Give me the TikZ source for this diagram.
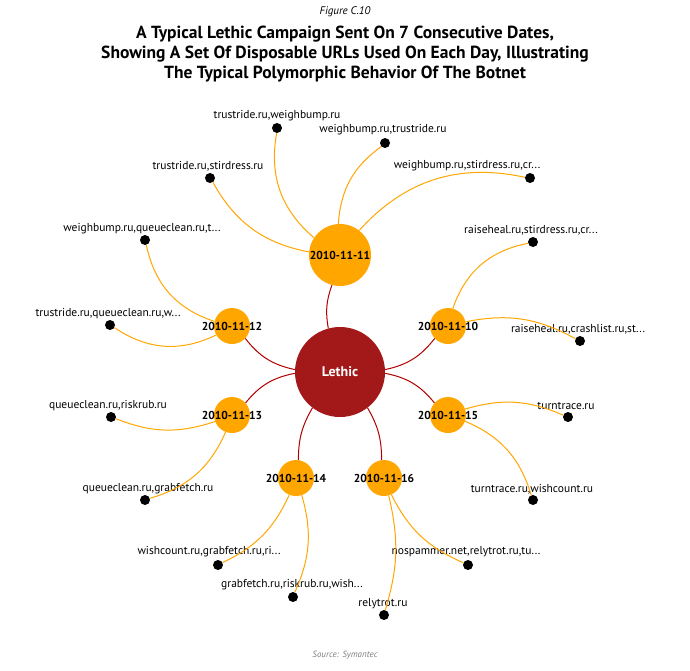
\documentclass[tikz,border=0pt]{standalone}
\usepackage{fontspec}
\setmainfont{PT Sans}
\begin{document}
\begin{tikzpicture}[x=1pt,y=-1pt,
  hub/.style={circle,fill=red!60!black!90,text=white,font=\bfseries\fontsize{14}{16}\selectfont,minimum size=90pt,inner sep=0},
  day/.style={circle,fill=orange!70!yellow,font=\bfseries\fontsize{11.5}{13}\selectfont,minimum size=36pt,inner sep=0},
  leaf/.style={circle,fill=black,minimum size=10pt,inner sep=0},
  lbl/.style={font=\fontsize{11.5}{13}\selectfont,inner sep=0},
  rl/.style={draw=red!70!black,line width=1pt},
  yl/.style={draw=orange!70!yellow,line width=1pt}]
\useasboundingbox (0,0) rectangle (690,670);
\node[font=\itshape\fontsize{11}{13}\selectfont] (fig) at (345,12) {Figure C.10};
\node[font=\bfseries\fontsize{17.5}{20}\selectfont,align=center] (title) at (345,54) {A Typical Lethic Campaign Sent On 7 Consecutive Dates,\\Showing A Set Of Disposable URLs Used On Each Day, Illustrating\\The Typical Polymorphic Behavior Of The Botnet};
\node[font=\itshape\fontsize{9}{11}\selectfont,text=gray] (src) at (345,655) {Source: Symantec};

\foreach \n/\x/\y/\lx/\ly/\t in {
 a/277/128/277/116/{trustride.ru,weighbump.ru},
 b/385/143/383/130/{weighbump.ru,trustride.ru},
 c/210/178/208/166/{trustride.ru,stirdress.ru},
 d/530/178/467/166/{weighbump.ru,stirdress.ru,cr...},
 e/145/240/142/229/{weighbump.ru,queueclean.ru,t...},
 f/533/242/531/230/{raiseheal.ru,stirdress.ru,cr...},
 g/110/325/108/314/{trustride.ru,queueclean.ru,w...},
 h/580/341/578/329/{raiseheal.ru,crashlist.ru,st...},
 i/111/417/108/406/{queueclean.ru,riskrub.ru},
 j/568/417/566/406/{turntrace.ru},
 k/145/500/148/489/{queueclean.ru,grabfetch.ru},
 l/533/500/532/489/{turntrace.ru,wishcount.ru},
 m/218/565/209/552/{wishcount.ru,grabfetch.ru,ri...},
 n/468/565/466/552/{nospammer.net,relytrot.ru,tu...},
 o/293/597/292/585/{grabfetch.ru,riskrub.ru,wish...},
 p/384/615/383/604/{relytrot.ru}}
 {\node[leaf] (\n) at (\x,\y) {}; \node[lbl] (\n l) at (\lx,\ly) {\t};}

\node[day,minimum size=62pt] (d11) at (340,255) {};
\node[day] (d10) at (448,326) {};
\node[day] (d12) at (232,326) {};
\node[day] (d13) at (232,415) {};
\node[day] (d15) at (448,415) {};
\node[day] (d14) at (296,478) {};
\node[day] (d16) at (384,478) {};

\draw[yl] (d11) to[bend left=30] (a);
\draw[yl] (d11) to[bend left=25] (b);
\draw[yl] (d11) to[bend left=25] (c);
\draw[yl] (d11) to[bend left=30] (d);
\draw[yl] (d12) to[bend left=30] (e);
\draw[yl] (d12) to[bend left=30] (g);
\draw[yl] (d10) to[bend left=30] (f);
\draw[yl] (d10) to[bend left=20] (h);
\draw[yl] (d13) to[bend left=20] (i);
\draw[yl] (d13) to[bend left=25] (k);
\draw[yl] (d15) to[bend left=20] (j);
\draw[yl] (d15) to[bend left=25] (l);
\draw[yl] (d14) to[bend left=20] (m);
\draw[yl] (d14) to[bend left=20] (o);
\draw[yl] (d16) to[bend right=20] (n);
\draw[yl] (d16) to[bend left=15] (p);

\node[hub] (L) at (340,372) {Lethic};
\draw[rl] (L) to[bend left=15] (d11);
\draw[rl] (L) to[bend right=20] (d10);
\draw[rl] (L) to[bend left=20] (d12);
\draw[rl] (L) to[bend right=20] (d13);
\draw[rl] (L) to[bend left=20] (d15);
\draw[rl] (L) to[bend right=15] (d14);
\draw[rl] (L) to[bend left=15] (d16);

\foreach \d/\t in {d11/2010-11-11,d10/2010-11-10,d12/2010-11-12,d13/2010-11-13,d15/2010-11-15,d14/2010-11-14,d16/2010-11-16}
 \node[font=\bfseries\fontsize{11.5}{13}\selectfont] (\d t) at (\d) {\t};
\end{tikzpicture}
\end{document}
